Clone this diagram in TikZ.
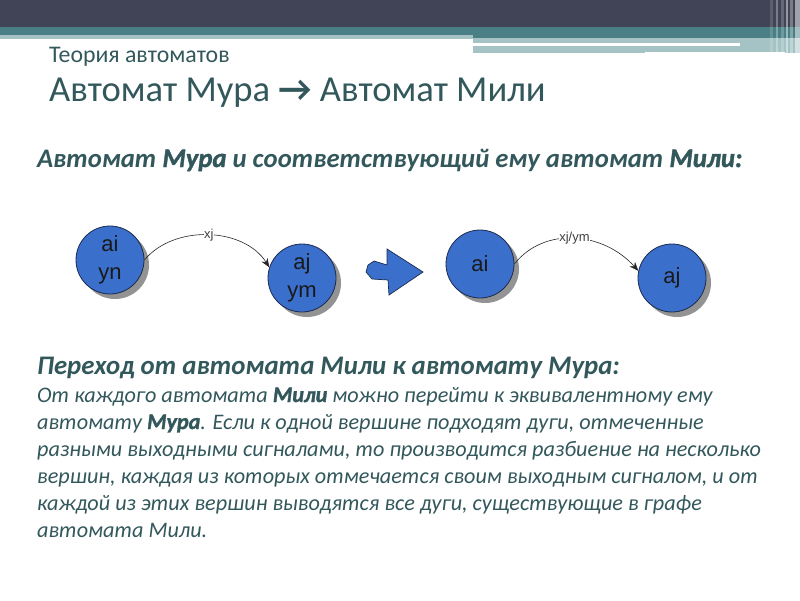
\documentclass[tikz,border=0pt]{standalone}
\usepackage{fontspec}
\setmainfont{Carlito}
\newfontfamily\diagfont{Liberation Sans}
\newfontfamily\heavyfont[FakeBold=1.5]{Carlito}
\usetikzlibrary{arrows.meta, shadows, positioning}
\definecolor{topdark}{HTML}{414356}
\definecolor{topteal}{HTML}{4A8085}
\definecolor{toplight}{HTML}{A5C3C5}
\definecolor{slidetext}{HTML}{33585C}
\definecolor{stateblue}{HTML}{3A6FCB}
\definecolor{stateedge}{HTML}{1B2A4E}
\newcommand{\hl}[1]{{\heavyfont\bfseries #1}}

\begin{document}
\begin{tikzpicture}[x=1pt, y=-1pt,
  state/.style={circle, draw=stateedge, line width=0.8pt, fill=stateblue, minimum size=68pt, inner sep=0pt,
    align=center, font=\diagfont\fontsize{22}{28}\selectfont, text=black!90,
    drop shadow={shadow xshift=5pt, shadow yshift=-5pt, opacity=0.6, fill=black!70}},
  trans/.style={-{Stealth[length=9pt, width=7pt]}, line width=0.6pt, black!85},
  translabel/.style={fill=white, inner sep=0.5pt, font=\diagfont\fontsize{13}{14}\selectfont, text=black!75},
  textline/.style={anchor=base west, inner sep=0pt, text=slidetext}]
\useasboundingbox (0,0) rectangle (800,600);
\fill[white] (0,0) rectangle (800,600);
% header bands
\fill[topdark] (0,0) rectangle (800,27);
\fill[topteal] (0,27) rectangle (800,38);
\fill[toplight] (0,35) rectangle (473,39);
\fill[topteal] (0,27) rectangle (473,35);
\fill[toplight] (473,38) rectangle (800,53);
\fill[white] (473,43) rectangle (740,45.5);
\fill[white] (645,52) rectangle (785,53.5);
\foreach \x/\w/\o in {770/3/0.15, 776/2/0.3, 781/3/0.2, 786/2/0.45, 790/3/0.3, 795/5/0.5} {
  \fill[white, opacity=\o] (\x,0) rectangle (\x+\w,53);
}
% titles
\node[textline, font=\fontsize{23.8}{28}\selectfont] (subject) at (49,62) {Теория автоматов};
\node[textline, font=\fontsize{36.6}{42}\selectfont] (title) at (49,101) {Автомат Мура \textbf{\textrightarrow}{} Автомат Мили};
\node[textline, font=\fontsize{26.7}{32}\selectfont\bfseries\itshape] (moore2mealy) at (37,167)
  {Автомат \hl{Мура} и соответствующий ему автомат \hl{Мили:}};
% Moore automaton
\node[state] (mi) at (110,260) {ai\\yn};
\node[state] (mj) at (302,278) {aj\\ym};
\draw[trans] (mi.east) .. controls +(30,-36) and +(-25,-40) .. node[translabel] {xj} (mj.162);
% block arrow
\filldraw[fill=stateblue, draw=stateedge, line width=0.7pt] (387,249) -- (423,272) -- (389,295) -- (388,280)
  -- (372,279) -- (366,272) -- (368,265) -- (374,261) -- (387,265) -- cycle;
% Mealy automaton
\node[state] (ni) at (480,264) {ai};
\node[state] (nj) at (672,278) {aj};
\draw[trans] (ni.east) .. controls +(30,-38) and +(-35,-39) .. node[translabel] {xj/ym} (nj.168);
% text
\node[textline, font=\fontsize{26.8}{32}\selectfont\bfseries\itshape] (mealy2moore) at (37,374)
  {Переход от автомата Мили к автомату Мура:};
\foreach \txt [count=\i] in {
  {От каждого автомата \hl{Мили} можно перейти к эквивалентному ему},
  {автомату \hl{Мура}. Если к одной вершине подходят дуги, отмеченные},
  {разными выходными сигналами, то производится разбиение на несколько},
  {вершин, каждая из которых отмечается своим выходным сигналом, и от},
  {каждой из этих вершин выводятся все дуги, существующие в графе},
  {автомата Мили.}} {
  \node[textline, font=\fontsize{22.2}{26}\selectfont\itshape] (body\i) at (37,{375+27*\i}) {\txt};
}
\end{tikzpicture}
\end{document}
